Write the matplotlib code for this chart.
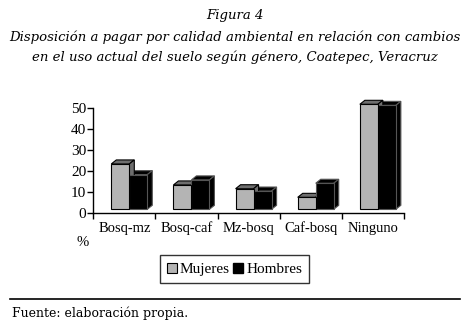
import numpy as np
import matplotlib
matplotlib.use('Agg')
import matplotlib.pyplot as plt
from matplotlib.patches import Polygon, Rectangle
from matplotlib.lines import Line2D

categories = ['Bosq-mz', 'Bosq-caf', 'Mz-bosq', 'Caf-bosq', 'Ninguno']
mujeres = [21.6, 11.6, 9.8, 5.7, 50.0]
hombres = [16.5, 14.0, 8.7, 12.4, 49.5]
yticks = [0, 10, 20, 30, 40, 50]

W, H = 470, 325
fig = plt.figure(figsize=(W / 100, H / 100), dpi=100)

# axes placed in pixel coords of the reference
x0, x1, y0, y1 = 93.3, 404, 213.3, 108.3
ax = fig.add_axes([x0 / W, 1 - y0 / H, (x1 - x0) / W, (y0 - y1) / H])
ax.set_xlim(0, len(categories))
ax.set_ylim(0, 50)

# 3d look: depth offset in data units
px_x = (x1 - x0) / len(categories)
px_y = (y0 - y1) / 50
ddx, ddy = 5 / px_x, 4 / px_y
lift = 4 / px_y
bw = 18 / px_x
off = 18 / px_x


def bar3d(xl, h, front, top, side, edge):
    b = lift
    t = lift + h
    ax.add_patch(Rectangle((xl, b), bw, h, facecolor=front, edgecolor=edge, lw=0.8, clip_on=False, zorder=3))
    ax.add_patch(Polygon([(xl, t), (xl + ddx, t + ddy), (xl + bw + ddx, t + ddy), (xl + bw, t)],
                         closed=True, facecolor=top, edgecolor=edge, lw=0.8, clip_on=False, zorder=2))
    ax.add_patch(Polygon([(xl + bw, b), (xl + bw, t), (xl + bw + ddx, t + ddy), (xl + bw + ddx, b + ddy)],
                         closed=True, facecolor=side, edgecolor=edge, lw=0.8, clip_on=False, zorder=2))


for i in range(len(categories)):
    # hombres drawn first (behind), then mujeres in front
    bar3d(i + off + bw, hombres[i], 'black', 'black', 'black', '#555555')
    bar3d(i + off, mujeres[i], '#b4b4b4', '#6e6e6e', '#6e6e6e', 'black')

for s in ['top', 'right']:
    ax.spines[s].set_visible(False)
for s in ['left', 'bottom']:
    ax.spines[s].set_linewidth(1.0)
ax.set_yticks(yticks)
ax.set_yticklabels([str(v) for v in yticks], family='Liberation Serif', fontsize=11)
ax.set_xticks(np.arange(len(categories) + 1))
ax.set_xticklabels([])
ax.set_xticks(np.arange(len(categories)) + 0.5, minor=True)
ax.set_xticklabels(categories, minor=True, family='Liberation Serif', fontsize=10.5)
ax.tick_params(axis='x', which='minor', length=0, pad=6)
ax.tick_params(axis='x', which='major', direction='out', length=4, width=1)
ax.tick_params(axis='y', direction='out', length=4, width=1, pad=1)
ax.patch.set_alpha(0)

fig.text(83 / W, 1 - 243 / H, '%', family='Liberation Serif', fontsize=10.5, ha='center', va='center')

# titles
fig.text(0.5, 1 - 15 / H, 'Figura 4', family='DejaVu Serif', style='italic', fontsize=9.5,
         ha='center', va='center')
fig.text(0.5, 1 - 37 / H, 'Disposición a pagar por calidad ambiental en relación con cambios',
         family='DejaVu Serif', style='italic', fontsize=9.5, ha='center', va='center')
fig.text(0.5, 1 - 57 / H, 'en el uso actual del suelo según género, Coatepec, Veracruz',
         family='DejaVu Serif', style='italic', fontsize=9.5, ha='center', va='center')

# legend
handles = [Line2D([], [], marker='s', ls='', markersize=6.5, markerfacecolor='#b4b4b4', markeredgecolor='black', markeredgewidth=0.8),
           Line2D([], [], marker='s', ls='', markersize=6.5, markerfacecolor='black', markeredgecolor='black')]
leg = fig.legend(handles, ['Mujeres', 'Hombres'], loc='center', bbox_to_anchor=(234.5 / W, 1 - 269 / H),
                 ncol=2, frameon=True, fancybox=False, edgecolor='black', handlelength=0.6, handletextpad=0.2,
                 columnspacing=0.3, borderpad=0.45, borderaxespad=0,
                 prop={'family': 'Liberation Serif', 'size': 11})
leg.get_frame().set_linewidth(1.0)

# source
fig.add_artist(Line2D([10 / W, 460 / W], [1 - 299 / H, 1 - 299 / H], color='black', lw=1.2))
fig.text(12 / W, 1 - 313 / H, 'Fuente: elaboración propia.', family='DejaVu Serif', fontsize=9,
         ha='left', va='center')

fig.savefig('out.png', dpi=100)
